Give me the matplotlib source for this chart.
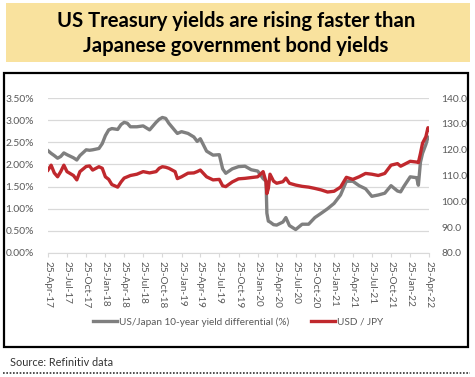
import matplotlib
matplotlib.use("Agg")
import matplotlib.pyplot as plt
import matplotlib.dates as mdates
from matplotlib.patches import Rectangle
from matplotlib.lines import Line2D
import pandas as pd

plt.rcParams['font.family'] = ['Lato', 'DejaVu Sans']

dates = [
    "2017-04-25", "2017-05-10", "2017-05-25", "2017-06-10", "2017-06-25", "2017-07-10",
    "2017-07-25", "2017-08-25", "2017-09-10", "2017-09-25", "2017-10-25", "2017-11-10",
    "2017-11-25", "2017-12-25", "2018-01-10", "2018-01-25", "2018-02-10", "2018-02-25",
    "2018-03-25", "2018-04-10", "2018-04-25", "2018-05-10", "2018-05-25", "2018-06-25",
    "2018-07-25", "2018-08-25", "2018-09-25", "2018-10-10", "2018-10-25", "2018-11-10",
    "2018-11-25", "2018-12-25", "2019-01-05", "2019-01-25", "2019-02-25", "2019-03-25",
    "2019-04-10", "2019-04-25", "2019-05-25", "2019-06-25", "2019-07-25", "2019-08-10",
    "2019-08-25", "2019-09-25", "2019-10-25", "2019-11-25", "2019-12-25", "2020-01-25",
    "2020-02-20", "2020-03-05", "2020-03-09", "2020-03-16", "2020-03-24", "2020-04-10",
    "2020-04-25", "2020-05-25", "2020-06-08", "2020-06-25", "2020-07-25", "2020-08-25",
    "2020-09-25", "2020-10-25", "2020-11-25", "2020-12-25", "2021-01-25", "2021-02-25",
    "2021-03-25", "2021-04-25", "2021-05-25", "2021-06-25", "2021-07-25", "2021-08-25",
    "2021-09-25", "2021-10-25", "2021-11-25", "2021-12-10", "2021-12-25", "2022-01-25",
    "2022-02-25", "2022-03-05", "2022-03-15", "2022-03-25", "2022-04-10", "2022-04-20",
    "2022-04-25",
]

# US/Japan 10-year yield differential (%)
yield_diff = [
    2.31, 2.25, 2.20, 2.14, 2.18, 2.26,
    2.22, 2.15, 2.10, 2.20, 2.33, 2.32,
    2.33, 2.36, 2.47, 2.65, 2.78, 2.81,
    2.79, 2.90, 2.95, 2.93, 2.85, 2.85,
    2.87, 2.78, 2.95, 3.02, 3.06, 3.04,
    2.93, 2.76, 2.70, 2.74, 2.70, 2.62,
    2.52, 2.58, 2.30, 2.21, 2.22, 1.90,
    1.80, 1.90, 1.95, 1.96, 1.88, 1.85,
    1.68, 1.62, 0.90, 0.72, 0.70, 0.64,
    0.63, 0.70, 0.80, 0.62, 0.53, 0.65,
    0.65, 0.80, 0.90, 1.00, 1.12, 1.31,
    1.62, 1.62, 1.52, 1.45, 1.28, 1.31,
    1.35, 1.52, 1.40, 1.38, 1.50, 1.72,
    1.70, 1.53, 2.05, 2.25, 2.45, 2.62,
    2.60,
]

# USD / JPY
usd_jpy = [
    112.1, 114.0, 111.0, 109.5, 111.5, 114.0,
    111.5, 110.0, 108.3, 111.5, 113.5, 113.7,
    112.1, 113.4, 112.8, 109.5, 108.5, 106.5,
    105.5, 107.5, 109.0, 109.5, 110.0, 110.5,
    111.5, 111.0, 111.5, 112.8, 113.4, 113.2,
    112.8, 111.5, 108.8, 109.5, 110.9, 111.0,
    111.5, 112.1, 109.5, 108.3, 108.5, 106.0,
    105.7, 107.5, 108.7, 108.9, 109.2, 109.5,
    111.5, 107.5, 103.0, 105.0, 110.5, 107.8,
    107.0, 107.6, 109.0, 107.0, 106.3, 105.8,
    105.5, 105.0, 104.4, 103.6, 103.9, 105.5,
    109.3, 108.5, 109.5, 110.8, 110.5, 110.0,
    110.8, 114.0, 114.6, 113.6, 114.2, 115.5,
    115.2, 115.0, 118.5, 122.5, 125.0, 128.5,
    127.8,
]

dates = pd.to_datetime(dates)
tick_dates = pd.to_datetime([f"{y}-{m:02d}-25" for y in range(2017, 2023)
                             for m in (1, 4, 7, 10)])
tick_dates = tick_dates[(tick_dates >= "2017-04-25") & (tick_dates <= "2022-04-25")]

grey = '#7F7F7F'
red = '#C0282D'
txt = '#595959'

fig = plt.figure(figsize=(4.75, 3.77), dpi=100)

# title banner
fig.patches.append(Rectangle((6 / 475, 1 - 62 / 377), 464 / 475, 59 / 377,
                             transform=fig.transFigure, facecolor='#F9E29E',
                             edgecolor='none', zorder=0))
fig.text(0.497, 1 - 21 / 377, "US Treasury yields are rising faster than",
         ha='center', va='center', fontsize=14.6, fontweight='bold', color='black')
fig.text(0.497, 1 - 46 / 377, "Japanese government bond yields",
         ha='center', va='center', fontsize=14.6, fontweight='bold', color='black')

# chart frame
fig.patches.append(Rectangle((3.5 / 475, 1 - 347 / 377), 464.5 / 475, 274 / 377,
                             transform=fig.transFigure, facecolor='none',
                             edgecolor='black', lw=1.6, zorder=0))

fig.text(10 / 475, 1 - 363 / 377, "Source: Refinitiv data", ha='left', va='center',
         fontsize=7.8, color='#333333')
fig.add_artist(Line2D([3 / 475, 470 / 475], [1 - 373 / 377] * 2,
                      transform=fig.transFigure, color='#333333', lw=1.2,
                      linestyle=(0, (1, 1))))

ax = fig.add_axes([48 / 475, 1 - 253 / 377, 381 / 475, 155 / 377])
ax2 = ax.twinx()

ax.plot(dates, yield_diff, color=grey, lw=2.4, solid_joinstyle='round')
ax2.plot(dates, usd_jpy, color=red, lw=2.4, solid_joinstyle='round')

ax.set_xlim(pd.Timestamp("2017-04-25"), pd.Timestamp("2022-04-25"))
ax.set_ylim(0, 3.5)
ax2.set_ylim(80, 140)
ax.set_yticks([i * 0.5 for i in range(8)])
ax.set_yticklabels([f"{i * 0.5:.2f}%" for i in range(8)])
ax2.set_yticks(range(80, 141, 10))
ax2.set_yticklabels([f"{v:.1f}" for v in range(80, 141, 10)])

ax.set_xticks(tick_dates)
ax.xaxis.set_major_formatter(mdates.DateFormatter('%d-%b-%y'))
for lab in ax.get_xticklabels():
    lab.set_rotation(-90)

ax.grid(axis='y', color='#D9D9D9', lw=0.9)
ax.set_axisbelow(True)
for a in (ax, ax2):
    for s in a.spines.values():
        s.set_visible(False)
ax.spines['bottom'].set_visible(True)
ax.spines['bottom'].set_color('#D9D9D9')

ax.tick_params(axis='y', length=0, pad=10, labelsize=7.4, labelcolor=txt)
ax2.tick_params(axis='y', length=0, pad=9, labelsize=7.4, labelcolor=txt)
ax.tick_params(axis='x', length=3, color='#D9D9D9', pad=3, labelsize=7.2,
               labelcolor=txt)

handles = [Line2D([], [], color=grey, lw=2.4), Line2D([], [], color=red, lw=2.4)]
fig.legend(handles, ["US/Japan 10-year yield differential (%)", "USD / JPY"],
           loc='center', bbox_to_anchor=(238 / 475, 1 - 322 / 377), ncol=2,
           frameon=False, fontsize=7.2, labelcolor=txt, handlelength=2.4,
           handletextpad=0.2, columnspacing=2.1)

fig.savefig("out.png", dpi=100)
